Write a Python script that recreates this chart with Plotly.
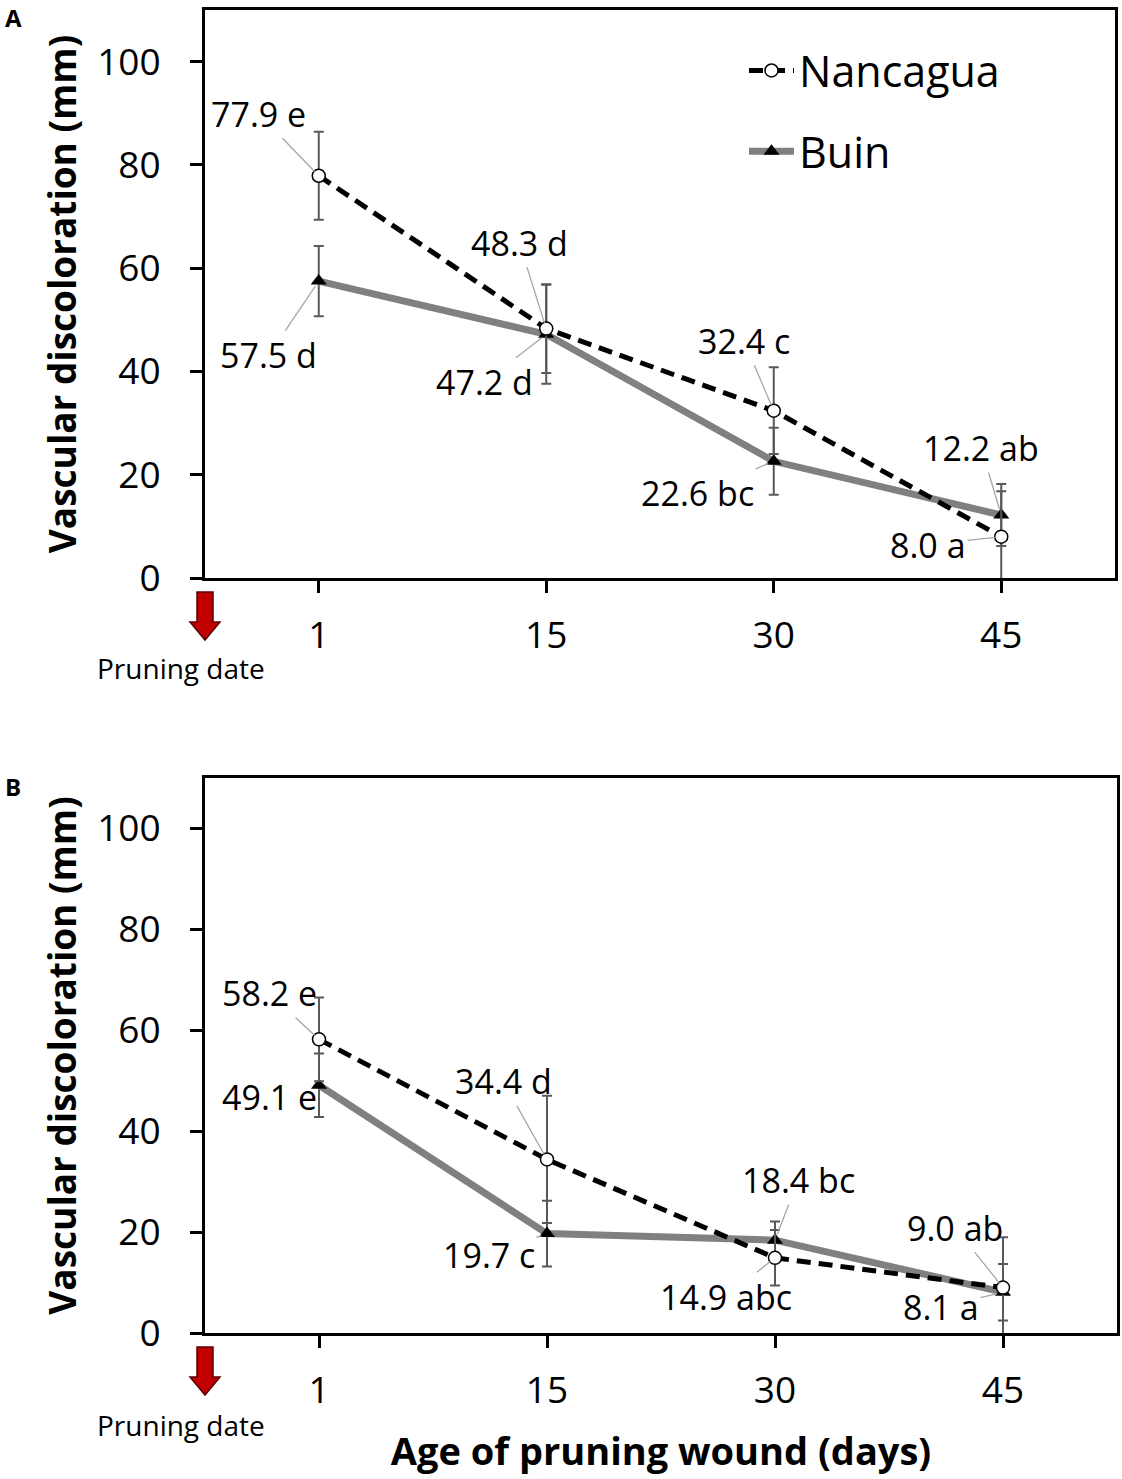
import plotly.graph_objects as go

# days after pruning (categories) and mean vascular discoloration (mm)
days = ["1", "15", "30", "45"]

# panel A
a_nancagua = [77.9, 48.3, 32.4, 8.0]
a_nancagua_err = [8.5, 8.6, 8.4, 8.8]
a_nancagua_lbl = ["77.9 e", "48.3 d", "32.4 c", "8.0 a"]
a_buin = [57.5, 47.2, 22.6, 12.2]
a_buin_err = [6.8, 9.6, 6.5, 6.0]
a_buin_lbl = ["57.5 d", "47.2 d", "22.6 bc", "12.2 ab"]

# panel B
b_nancagua = [58.2, 34.4, 14.9, 9.0]
b_nancagua_err = [8.3, 12.6, 5.5, 10.0]
b_nancagua_lbl = ["58.2 e", "34.4 d", "14.9 abc", "9.0 ab"]
b_buin = [49.1, 19.7, 18.4, 8.1]
b_buin_err = [6.3, 6.5, 3.7, 5.6]
b_buin_lbl = ["49.1 e", "19.7 c", "18.4 bc", "8.1 a"]

yticks = [0, 20, 40, 60, 80, 100]

# label offsets (pixels from the point to the label centre)
a_nan_off = [(-60, -62), (-27, -86), (-30, -70), (-73, 8)]
a_buin_off = [(-50, 74), (-62, 48), (-76, 32), (-20, -67)]
b_nan_off = [(-50, -46), (-44, -78), (-49, 39), (-48, -60)]
b_buin_off = [(-50, 12), (-58, 21), (23, -60), (-62, 15)]

W, H = 1122, 1479
FONT = "Open Sans"
ERRC = "#595959"
LEAD = "#a6a6a6"


def px(x):
    return x / W


def py(y):
    return 1 - y / H


fig = go.Figure()


def add_panel(xa, ya, nan, nan_err, buin, buin_err, legend):
    # Buin drawn first so the dashed Nancagua line sits on top
    fig.add_trace(go.Scatter(
        x=days, y=buin, xaxis=xa, yaxis=ya, name="Buin", mode="lines+markers",
        line=dict(color="#808080", width=7),
        marker=dict(symbol="triangle-up", size=14, color="black"),
        error_y=dict(type="data", array=buin_err, color=ERRC, thickness=2, width=5),
        showlegend=legend, legendgroup="buin", legendrank=2))
    fig.add_trace(go.Scatter(
        x=days, y=nan, xaxis=xa, yaxis=ya, name="Nancagua", mode="lines+markers",
        line=dict(color="black", width=5, dash="14px,8px"),
        marker=dict(symbol="circle", size=13, color="white",
                    line=dict(color="black", width=1.5)),
        error_y=dict(type="data", array=nan_err, color=ERRC, thickness=2, width=5),
        showlegend=legend, legendgroup="nan", legendrank=1))


add_panel("x", "y", a_nancagua, a_nancagua_err, a_buin, a_buin_err, True)
add_panel("x2", "y2", b_nancagua, b_nancagua_err, b_buin, b_buin_err, False)

ann = []


def labels(xr, yr, vals, lbls, offs):
    for i, (v, t, (ox, oy)) in enumerate(zip(vals, lbls, offs)):
        lead = t != "49.1 e"
        ann.append(dict(
            x=i, y=v, xref=xr, yref=yr, text=t, ax=ox, ay=oy,
            showarrow=lead, arrowhead=0, arrowwidth=1.3,
            arrowcolor=LEAD, standoff=6,
            xshift=0 if lead else ox, yshift=0 if lead else -oy,
            font=dict(family=FONT, size=34, color="black")))


labels("x", "y", a_nancagua, a_nancagua_lbl, a_nan_off)
labels("x", "y", a_buin, a_buin_lbl, a_buin_off)
labels("x2", "y2", b_nancagua, b_nancagua_lbl, b_nan_off)
labels("x2", "y2", b_buin, b_buin_lbl, b_buin_off)

# panel letters
for txt, ly in [("A", 18), ("B", 786)]:
    ann.append(dict(x=px(13), y=py(ly), xref="paper", yref="paper", text="<b>%s</b>" % txt,
                    xanchor="center", yanchor="middle", showarrow=False,
                    font=dict(family=FONT, size=24, color="black")))

# pruning date markers
shapes = []
for top, lbl_y in [(592, 668), (1347, 1425)]:
    cx = 205
    pts = [(cx - 8, top), (cx + 8, top), (cx + 8, top + 30), (cx + 15, top + 30),
           (cx, top + 48), (cx - 15, top + 30), (cx - 8, top + 30)]
    path = "M " + " L ".join("%.5f,%.5f" % (px(a), py(b)) for a, b in pts) + " Z"
    shapes.append(dict(type="path", xref="paper", yref="paper", path=path,
                       fillcolor="#c00000", line=dict(color="#5a0000", width=1.5)))
    ann.append(dict(x=px(181), y=py(lbl_y), xref="paper", yref="paper",
                    text="Pruning date", showarrow=False,
                    xanchor="center", yanchor="middle",
                    font=dict(family=FONT, size=28, color="black")))

axis = dict(showline=True, linecolor="black", linewidth=3, mirror=True,
            ticks="outside", ticklen=12, tickwidth=3, tickcolor="black",
            showgrid=False, zeroline=False, automargin=False,
            tickfont=dict(family=FONT, size=37, color="black"))

ytitle = dict(text="<b>Vascular discoloration (mm)</b>",
              font=dict(family=FONT, size=37, color="black"), standoff=10)

fig.update_layout(
    width=W, height=H, autosize=False,
    margin=dict(l=0, r=0, t=0, b=0),
    paper_bgcolor="white", plot_bgcolor="white",
    xaxis=dict(axis, domain=[px(205), px(1115)], type="category", range=[-0.5, 3.5],
               anchor="y", ticklabelstandoff=11),
    yaxis=dict(axis, domain=[py(578), py(10)], range=[0, 110], tickvals=yticks,
               anchor="x", title=ytitle, ticklabelstandoff=22),
    xaxis2=dict(axis, domain=[px(205), px(1117)], type="category", range=[-0.5, 3.5],
                anchor="y2", ticklabelstandoff=11,
                title=dict(text="<b>Age of pruning wound (days)</b>",
                           font=dict(family=FONT, size=38, color="black"), standoff=25)),
    yaxis2=dict(axis, domain=[py(1333), py(778)], range=[0, 110], tickvals=yticks,
                anchor="x2", title=ytitle, ticklabelstandoff=22),
    legend=dict(x=px(744), y=py(36), xanchor="left", yanchor="top",
                bgcolor="rgba(0,0,0,0)", traceorder="grouped", tracegroupgap=22,
                itemwidth=45, font=dict(family=FONT, size=43, color="black")),
    annotations=ann, shapes=shapes,
)

# drop the browser's default 8px body margin so the page is exactly the figure
fig.write_html("out.html", config={"displayModeBar": False},
               post_script="document.body.style.margin='0';")
